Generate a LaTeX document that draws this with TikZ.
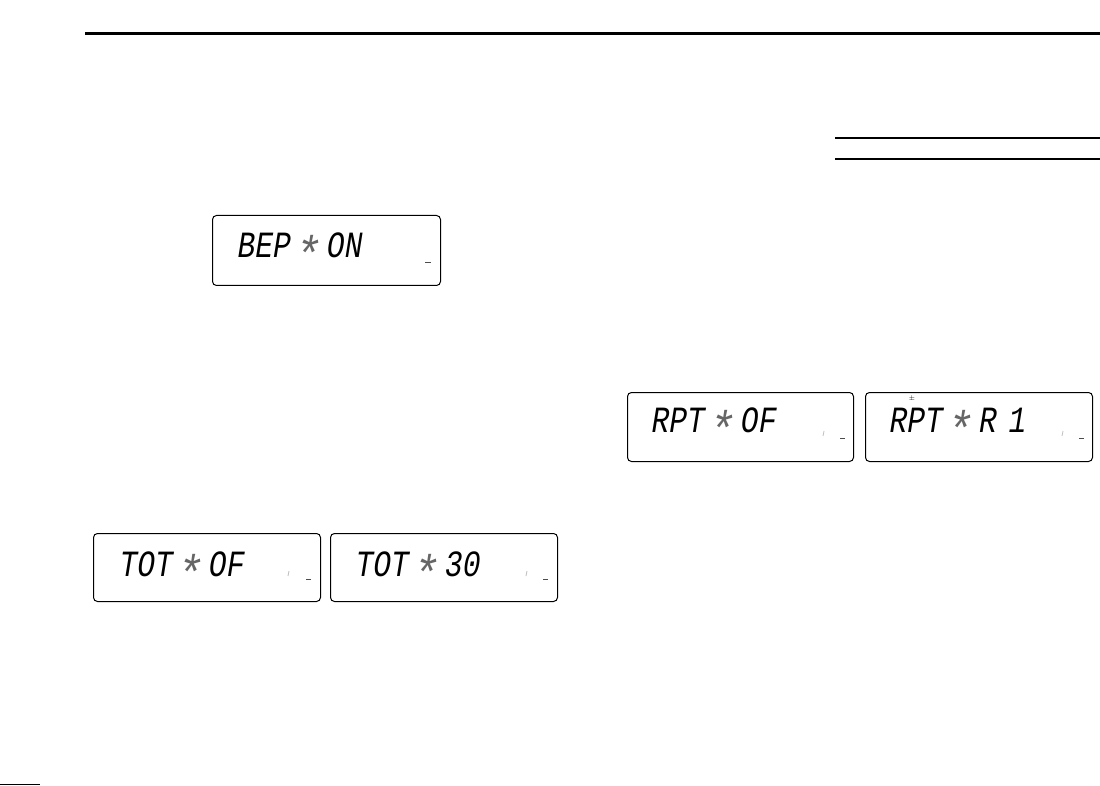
\documentclass[tikz,border=0pt]{standalone}
\usepackage{fontspec}
\newfontfamily\lcdfont[FakeSlant=0.16,FakeStretch=0.8]{Liberation Mono}
\newcommand{\lcdstar}{\makebox[36pt]{\kern-4pt\color{black!60}\raisebox{-14pt}{\scalebox{1.5}[1.35]{*}}}}
\begin{document}
\begin{tikzpicture}[x=1pt,y=-1pt,
  lcdbox/.style={draw=black,line width=1pt,rounded corners=4pt,anchor=north west,inner sep=0pt},
  lcdtext/.style={anchor=base west,inner sep=0pt,font=\lcdfont\fontsize{37}{37}\selectfont},
  rulethick/.style={line width=2.2pt},
  rulethin/.style={line width=1.2pt},
  segmark/.style={line width=0.9pt,black!70},
  segfaint/.style={line width=0.8pt,black!25}]
\useasboundingbox (0,0) rectangle (1100,786);
\fill[white] (0,0) rectangle (1100,786);
% page rules
\draw[rulethick] (85,33.5) -- (1100,33.5);
\draw[rulethin] (835,138) -- (1100,138);
\draw[rulethin] (835,159) -- (1100,159);
\draw[rulethin] (0,784.5) -- (40,784.5);
% display boxes
\node[lcdbox,minimum width=228pt,minimum height=70pt] (bep) at (212,215) {};
\node[lcdbox,minimum width=227pt,minimum height=68pt] (totof) at (93,533) {};
\node[lcdbox,minimum width=227pt,minimum height=68pt] (tot30) at (330,533) {};
\node[lcdbox,minimum width=226pt,minimum height=69pt] (rptof) at (627,392) {};
\node[lcdbox,minimum width=227pt,minimum height=69pt] (rptr1) at (865,392) {};
% display texts
\node[lcdtext] (bept) at (236,258) {BEP\lcdstar ON};
\node[lcdtext] (totoft) at (118,576) {TOT\lcdstar OF};
\node[lcdtext] (tot30t) at (354,576) {TOT\lcdstar 30};
\node[lcdtext] (rptoft) at (650,432) {RPT\lcdstar OF};
\node[lcdtext] (rptr1t) at (888,432) {RPT\lcdstar R\kern12pt 1};
\node[inner sep=0pt,font=\fontsize{7}{7}\selectfont] (dup) at (912,398.5) {±};
% small indicator segments
\draw[segmark] (425,262) -- (431,262);
\draw[segmark] (306,579) -- (311,579);
\draw[segmark] (543,579) -- (548,579);
\draw[segmark] (840,438) -- (845,438);
\draw[segmark] (1079,438) -- (1084,438);
\draw[segfaint] (289,571) -- (288,576);
\draw[segfaint] (527,571) -- (526,576);
\draw[segfaint] (824,431) -- (823,436);
\draw[segfaint] (1063,431) -- (1062,436);
\end{tikzpicture}
\end{document}
